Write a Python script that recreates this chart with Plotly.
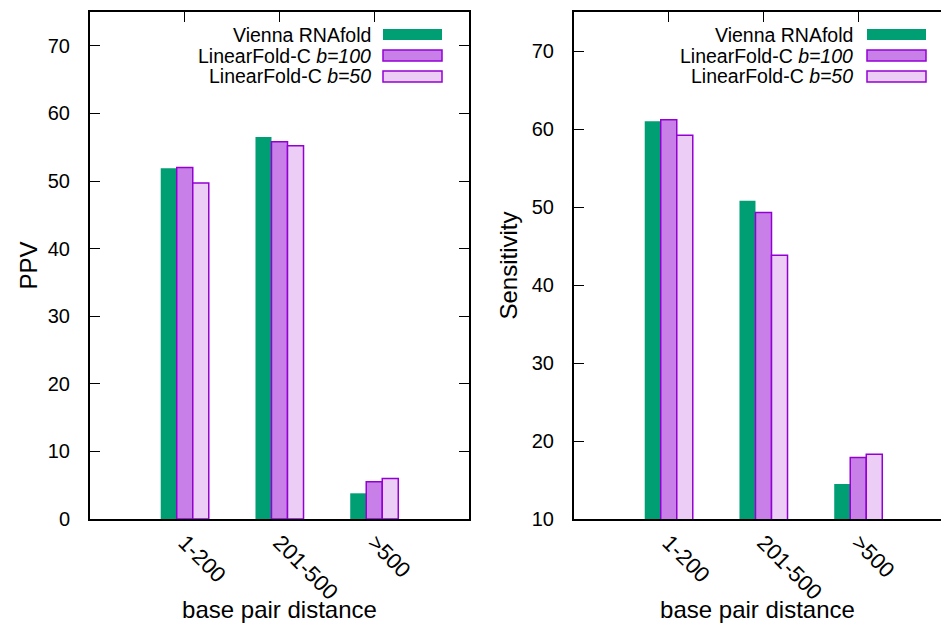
import plotly.graph_objects as go

# ---- data ----
categories = ["1-200", "201-500", ">500"]
series_names = ["Vienna RNAfold", "LinearFold-C <i>b=100</i>", "LinearFold-C <i>b=50</i>"]
ppv_vienna = [51.9, 56.5, 3.8]
ppv_b100 = [52.0, 55.8, 5.5]
ppv_b50 = [49.7, 55.2, 6.0]
sens_vienna = [61.0, 50.8, 14.5]
sens_b100 = [61.2, 49.3, 17.9]
sens_b50 = [59.2, 43.8, 18.3]
ppv_ticks = [0, 10, 20, 30, 40, 50, 60, 70]
sens_ticks = [10, 20, 30, 40, 50, 60, 70]

# ---- styles ----
W, H = 941, 623
FONT = "Liberation Sans, Arial, sans-serif"
fills = ["#009E73", "#C880E8", "#EBCDF5"]
edges = ["#009E73", "#9400D3", "#9400D3"]
edge_w = [0, 1.5, 1.5]

fig = go.Figure()

for vals, xa, ya in [((ppv_vienna, ppv_b100, ppv_b50), "x", "y"),
                     ((sens_vienna, sens_b100, sens_b50), "x2", "y2")]:
    for i, v in enumerate(vals):
        fig.add_trace(go.Bar(
            x=categories, y=v, name=series_names[i],
            marker=dict(color=fills[i], line=dict(color=edges[i], width=edge_w[i])),
            xaxis=xa, yaxis=ya, showlegend=False,
        ))

axis_common = dict(showline=True, linecolor="black", linewidth=2,
                   tickcolor="black", tickwidth=1, ticklen=10,
                   showgrid=False, zeroline=False)
ytickfont = dict(family=FONT, size=20, color="black")
xtickfont = dict(family=FONT, size=22, color="black")

L0, L1 = 90 / W, 469 / W
R0 = 574 / W
unit_px = (469 - 90) / 4.0
r_span = (W - 574) / unit_px

fig.update_layout(
    width=W, height=H,
    margin=dict(l=0, r=0, t=12, b=104),
    paper_bgcolor="white", plot_bgcolor="white",
    barmode="group", bargap=0.493, bargroupgap=0.0,
    font=dict(family=FONT, size=20, color="black"),
    xaxis=dict(domain=[L0, L1], anchor="y", type="category", range=[-1, 3],
               mirror="allticks", ticks="inside", tickangle=45, layer="below traces",
               ticklabelstandoff=0, tickfont=xtickfont,
               title=dict(text="base pair distance", font=dict(family=FONT, size=24), standoff=0),
               **axis_common),
    yaxis=dict(domain=[0, 1], anchor="x", range=[0, 75], tickvals=ppv_ticks,
               mirror="allticks", ticks="inside", ticklabelstandoff=14, tickfont=ytickfont,
               title=dict(text="PPV", font=dict(family=FONT, size=24), standoff=3),
               **axis_common),
    xaxis2=dict(domain=[R0, 1], anchor="y2", type="category", range=[-1, -1 + r_span],
                mirror="allticks", ticks="inside", tickangle=45, layer="below traces",
                ticklabelstandoff=0, tickfont=xtickfont,
                title=dict(text="base pair distance", font=dict(family=FONT, size=24), standoff=0),
                **axis_common),
    yaxis2=dict(domain=[0, 1], anchor="x2", range=[10, 75], tickvals=sens_ticks,
                mirror=False, ticks="inside", ticklabelstandoff=14, tickfont=ytickfont,
                title=dict(text="Sensitivity", font=dict(family=FONT, size=24), standoff=7),
                **axis_common),
)

# ---- manual legends (text right-aligned, swatch on the right) ----
plot_top, plot_bot = 12, 519
def py(y):
    return (plot_bot - y) / (plot_bot - plot_top)

row_y = [34.5, 55.5, 76.5]
sw_h = 11
for text_right, sw_x0, sw_x1 in [(373, 383, 442), (855, 867, 926)]:
    for i, name in enumerate(series_names):
        fig.add_annotation(x=text_right / W, y=py(row_y[i]), xref="paper", yref="paper",
                           text=name, showarrow=False, xanchor="right", yanchor="middle",
                           font=dict(family=FONT, size=19.5, color="black"))
        fig.add_shape(type="rect", xref="paper", yref="paper",
                      x0=sw_x0 / W, x1=sw_x1 / W,
                      y0=py(row_y[i] + sw_h / 2), y1=py(row_y[i] - sw_h / 2),
                      fillcolor=fills[i], line=dict(color=edges[i], width=edge_w[i] if edge_w[i] else 0))

fig.write_html("out.html")
